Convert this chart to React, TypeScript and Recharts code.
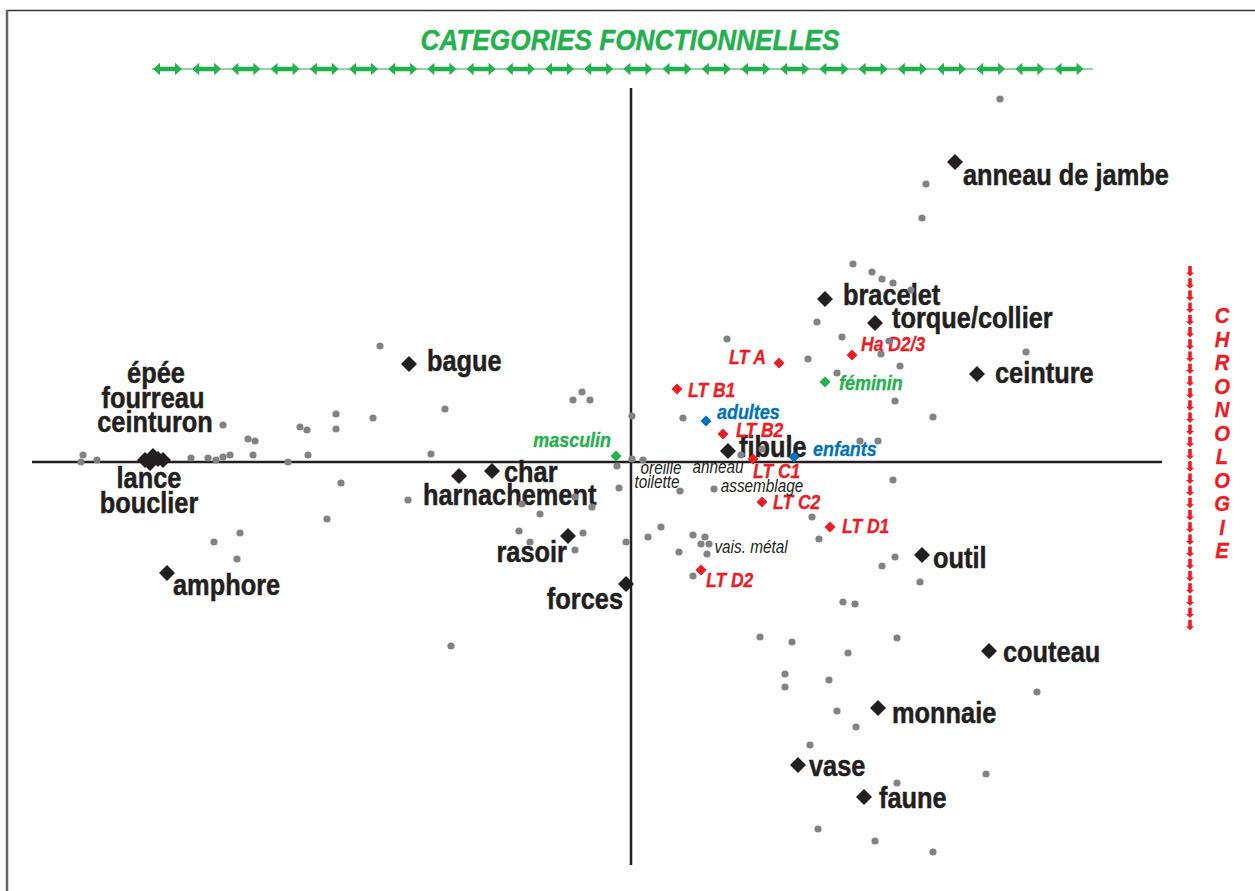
import React from 'react';
import { ScatterChart, Scatter, XAxis, YAxis, ReferenceLine } from 'recharts';

type Pt = { x: number; y: number; name?: string };

// supplementary items (grey dots)
const greyPoints: Pt[] = [
  { x: -2.51, y: 1.16 }, { x: -4.08, y: 0.37 }, { x: -3.31, y: 0.35 }, { x: -3.24, y: 0.32 },
  { x: -2.95, y: 0.48 }, { x: -2.95, y: 0.33 }, { x: -2.58, y: 0.44 }, { x: -3.83, y: 0.23 },
  { x: -3.76, y: 0.21 }, { x: -5.48, y: 0.07 }, { x: -5.5, y: 0.0 }, { x: -5.34, y: 0.02 },
  { x: -4.4, y: 0.04 }, { x: -4.23, y: 0.04 }, { x: -4.15, y: 0.02 }, { x: -4.08, y: 0.05 },
  { x: -4.01, y: 0.07 }, { x: -3.78, y: 0.07 }, { x: -3.43, y: 0.0 }, { x: -3.23, y: 0.07 },
  { x: -2.9, y: -0.21 }, { x: -2.23, y: -0.38 }, { x: -3.04, y: -0.57 }, { x: -3.91, y: -0.71 },
  { x: -4.17, y: -0.8 }, { x: -3.94, y: -0.97 }, { x: -1.86, y: 0.53 }, { x: -0.58, y: 0.62 },
  { x: -0.49, y: 0.7 }, { x: -0.41, y: 0.62 }, { x: 0.01, y: 0.46 }, { x: -2.0, y: 0.08 },
  { x: 0.01, y: 0.03 }, { x: 0.12, y: 0.02 }, { x: -0.14, y: -0.04 }, { x: -0.12, y: -0.26 },
  { x: -1.09, y: -0.42 }, { x: -0.91, y: -0.52 }, { x: -0.56, y: -0.35 }, { x: -0.39, y: -0.45 },
  { x: -1.12, y: -0.69 }, { x: -1.01, y: -0.8 }, { x: -0.48, y: -0.71 }, { x: -0.56, y: -0.88 },
  { x: -0.05, y: -0.8 }, { x: -1.8, y: -1.84 }, { x: 0.49, y: -0.29 }, { x: 0.83, y: -0.27 },
  { x: 0.17, y: -0.75 }, { x: 0.3, y: -0.65 }, { x: 0.48, y: -0.9 }, { x: 0.62, y: -0.73 },
  { x: 0.7, y: -0.82 }, { x: 0.74, y: -0.75 }, { x: 0.78, y: -0.82 }, { x: 0.76, y: -0.92 },
  { x: 0.62, y: -1.14 }, { x: 0.52, y: 0.44 }, { x: 0.96, y: 1.23 }, { x: 1.77, y: 1.03 },
  { x: 1.86, y: 1.4 }, { x: 2.06, y: 0.89 }, { x: 1.1, y: 0.07 }, { x: 1.31, y: 0.13 },
  { x: 2.29, y: 0.21 }, { x: 2.47, y: 0.21 }, { x: 2.62, y: -0.18 }, { x: 1.81, y: -0.55 },
  { x: 1.88, y: -0.77 }, { x: 2.51, y: -1.04 }, { x: 2.64, y: -0.95 }, { x: 2.89, y: -1.2 },
  { x: 2.11, y: 1.25 }, { x: 2.58, y: 1.21 }, { x: 2.5, y: 1.08 }, { x: 2.69, y: 0.96 },
  { x: 3.95, y: 1.1 }, { x: 2.64, y: 0.61 }, { x: 3.02, y: 0.45 }, { x: 3.69, y: 3.63 },
  { x: 2.95, y: 2.78 }, { x: 2.91, y: 2.44 }, { x: 2.22, y: 1.98 }, { x: 2.41, y: 1.9 },
  { x: 2.51, y: 1.83 }, { x: 2.62, y: 1.79 }, { x: 2.8, y: 1.72 }, { x: 2.12, y: -1.4 },
  { x: 2.24, y: -1.42 }, { x: 2.66, y: -1.76 }, { x: 2.17, y: -1.91 }, { x: 1.29, y: -1.75 },
  { x: 1.61, y: -1.8 }, { x: 1.54, y: -2.12 }, { x: 1.54, y: -2.25 }, { x: 1.98, y: -2.18 },
  { x: 2.06, y: -2.49 }, { x: 2.25, y: -2.65 }, { x: 1.79, y: -2.83 }, { x: 4.06, y: -2.3 },
  { x: 3.55, y: -3.12 }, { x: 2.66, y: -3.21 }, { x: 1.87, y: -3.67 }, { x: 2.44, y: -3.79 },
  { x: 3.02, y: -3.9 },
];

const functionCategories: Pt[] = [
  { name: 'anneau de jambe', x: 3.24, y: 3.0 },
  { name: 'bracelet', x: 1.94, y: 1.63 },
  { name: 'torque/collier', x: 2.44, y: 1.39 },
  { name: 'ceinture', x: 3.46, y: 0.88 },
  { name: 'bague', x: -2.22, y: 0.98 },
  { name: 'épée', x: -4.78, y: 0.06 },
  { name: 'fourreau', x: -4.73, y: 0.03 },
  { name: 'ceinturon', x: -4.68, y: 0.02 },
  { name: 'lance', x: -4.86, y: 0.02 },
  { name: 'bouclier', x: -4.81, y: -0.01 },
  { name: 'amphore', x: -4.64, y: -1.11 },
  { name: 'char', x: -1.39, y: -0.09 },
  { name: 'harnachement', x: -1.72, y: -0.14 },
  { name: 'rasoir', x: -0.63, y: -0.74 },
  { name: 'forces', x: -0.05, y: -1.22 },
  { name: 'fibule', x: 0.97, y: 0.11 },
  { name: 'outil', x: 2.91, y: -0.93 },
  { name: 'couteau', x: 3.58, y: -1.89 },
  { name: 'monnaie', x: 2.47, y: -2.46 },
  { name: 'vase', x: 1.67, y: -3.03 },
  { name: 'faune', x: 2.33, y: -3.35 },
];

const chronoPhases: Pt[] = [
  { name: 'Ha D2/3', x: 2.21, y: 1.07 },
  { name: 'LT A', x: 1.48, y: 0.99 },
  { name: 'LT B1', x: 0.46, y: 0.73 },
  { name: 'LT B2', x: 0.92, y: 0.28 },
  { name: 'LT C1', x: 1.22, y: 0.03 },
  { name: 'LT C2', x: 1.31, y: -0.4 },
  { name: 'LT D1', x: 1.99, y: -0.65 },
  { name: 'LT D2', x: 0.7, y: -1.08 },
];

const ageGroups: Pt[] = [
  { name: 'adultes', x: 0.75, y: 0.41 },
  { name: 'enfants', x: 1.63, y: 0.05 },
];

const sexGroups: Pt[] = [
  { name: 'masculin', x: -0.15, y: 0.06 },
  { name: 'féminin', x: 1.94, y: 0.8 },
];

const minorCategories: Pt[] = [
  { name: 'oreille', x: 0.3, y: -0.07 },
  { name: 'toilette', x: 0.26, y: -0.21 },
  { name: 'anneau', x: 0.87, y: -0.06 },
  { name: 'assemblage', x: 1.31, y: -0.25 },
  { name: 'vais. métal', x: 1.2, y: -0.86 },
];

const CHRONO_LETTERS = 'CHRONOLOGIE'.split('');

const W = 1255;
const H = 891;
const FONT = '"Liberation Sans", Arial, Helvetica, sans-serif';
const SQUEEZE = 0.875;
const INK = '#231f20';
const GREY = '#818285';
const RED = '#ed1c24';
const BLUE = '#0072bc';
const GREEN = '#22b14c';

// label offset from marker: dx, dy (baseline), anchor
const LABEL_POS: Record<string, [number, number, 'start' | 'middle' | 'end']> = {
  'anneau de jambe': [8, 23, 'start'],
  bracelet: [18, 6, 'start'],
  'torque/collier': [17, 5, 'start'],
  ceinture: [18, 9, 'start'],
  bague: [18, 7, 'start'],
  'épée': [3, -73, 'middle'],
  fourreau: [-5, -51, 'middle'],
  ceinturon: [-8, -28, 'middle'],
  lance: [4, 28, 'middle'],
  bouclier: [-1, 50, 'middle'],
  amphore: [6, 22, 'start'],
  char: [12, 11, 'start'],
  harnachement: [-36, 29, 'start'],
  rasoir: [-1, 26, 'end'],
  forces: [-3, 25, 'end'],
  fibule: [11, 6, 'start'],
  outil: [11, 13, 'start'],
  couteau: [14, 11, 'start'],
  monnaie: [14, 15, 'start'],
  vase: [11, 11, 'start'],
  faune: [15, 11, 'start'],
  'LT A': [-13, 1, 'end'],
  'Ha D2/3': [9, -4, 'start'],
  'LT B1': [11, 8, 'start'],
  'LT B2': [13, 3, 'start'],
  'LT C1': [0, 19, 'start'],
  'LT C2': [11, 7, 'start'],
  'LT D1': [12, 6, 'start'],
  'LT D2': [5, 17, 'start'],
  adultes: [11, -2, 'start'],
  enfants: [19, -1, 'start'],
  masculin: [-5, -9, 'end'],
  'féminin': [14, 8, 'start'],
};

const diamondShape =
  (half: number, color: string, fontSize: number, italic: boolean, heavy: number) => (props: any) => {
    const { cx, cy, payload } = props;
    const pos = LABEL_POS[payload.name] ?? [half + 4, 5, 'start'];
    return (
      <g>
        <polygon
          points={`${cx},${cy - half} ${cx + half},${cy} ${cx},${cy + half} ${cx - half},${cy}`}
          fill={color}
        />
        <text
          transform={`translate(${cx + pos[0]},${cy + pos[1]}) scale(${SQUEEZE},1)`}
          textAnchor={pos[2]}
          fontFamily={FONT}
          fontWeight="bold"
          fontStyle={italic ? 'italic' : 'normal'}
          fontSize={fontSize}
          fill={color}
          stroke={color}
          strokeWidth={heavy}
        >
          {payload.name}
        </text>
      </g>
    );
  };

const greyDot = (props: any) => <circle cx={props.cx} cy={props.cy} r={3.6} fill={GREY} />;

const minorLabel = (props: any) => (
  <text
    transform={`translate(${props.cx},${props.cy + 5}) scale(${SQUEEZE},1)`}
    textAnchor="middle"
    fontFamily={FONT}
    fontStyle="italic"
    fontSize={17.5}
    fill={INK}
  >
    {props.payload.name}
  </text>
);

function Decorations() {
  const arrows = Array.from({ length: 24 }, (_, i) => 153 + i * 39.2);
  const chronoTicks = Array.from({ length: 30 }, (_, i) => 266 + i * 12.2);
  return (
    <svg width={W} height={H} style={{ position: 'absolute', left: 0, top: 0, pointerEvents: 'none' }}>
      <line x1={7} y1={10.5} x2={W} y2={10.5} stroke="#333" strokeWidth={1.5} />
      <line x1={7} y1={10} x2={7} y2={H} stroke="#666" strokeWidth={2.5} />
      <text
        transform="translate(630,50) scale(0.905,1)"
        textAnchor="middle"
        fontFamily={FONT}
        fontWeight="bold"
        fontStyle="italic"
        fontSize={29}
        fill={GREEN}
        stroke={GREEN}
        strokeWidth={0.4}
      >
        CATEGORIES FONCTIONNELLES
      </text>
      <line x1={152} y1={69} x2={1093} y2={69} stroke="#8fd6a5" strokeWidth={2} />
      {arrows.map((x0) => (
        <polygon
          key={x0}
          fill={GREEN}
          points={`${x0},69 ${x0 + 7},62.7 ${x0 + 7},66.8 ${x0 + 22},66.8 ${x0 + 22},62.7 ${x0 + 29},69 ${x0 + 22},75.3 ${x0 + 22},71.2 ${x0 + 7},71.2 ${x0 + 7},75.3`}
        />
      ))}
      {chronoTicks.map((y0) => (
        <g key={y0}>
          <line x1={1190} y1={y0} x2={1190} y2={y0 + 7.5} stroke={RED} strokeWidth={3.6} />
          <polygon fill={RED} points={`${1186},${y0 + 6.5} ${1194},${y0 + 6.5} ${1190},${y0 + 10.5}`} />
        </g>
      ))}
      {CHRONO_LETTERS.map((ch, i) => (
        <text
          key={i}
          transform={`translate(1222,${323 + i * 23.5}) scale(0.9,1)`}
          textAnchor="middle"
          fontFamily={FONT}
          fontWeight="bold"
          fontStyle="italic"
          fontSize={22.5}
          fill={RED}
          stroke={RED}
          strokeWidth={0.3}
        >
          {ch}
        </text>
      ))}
    </svg>
  );
}

export default function App() {
  return (
    <div style={{ position: 'absolute', left: 0, top: 0, width: W, height: H, background: '#fff' }}>
      <ScatterChart width={W} height={H} margin={{ top: 0, right: 0, bottom: 0, left: 0 }}>
        <XAxis type="number" dataKey="x" domain={[-6.31, 6.24]} allowDataOverflow hide />
        <YAxis type="number" dataKey="y" domain={[-4.29, 4.62]} allowDataOverflow hide />
        <ReferenceLine
          segment={[{ x: -5.99, y: 0 }, { x: 5.31, y: 0 }]}
          stroke={INK}
          strokeWidth={2.5}
        />
        <ReferenceLine
          segment={[{ x: 0, y: 3.74 }, { x: 0, y: -4.03 }]}
          stroke={INK}
          strokeWidth={2.5}
        />
        <Scatter data={functionCategories} shape={diamondShape(8, INK, 29, false, 0.5)} isAnimationActive={false} />
        <Scatter data={chronoPhases} shape={diamondShape(5.5, RED, 20, true, 0.3)} isAnimationActive={false} />
        <Scatter data={ageGroups} shape={diamondShape(5.5, BLUE, 20.5, true, 0.3)} isAnimationActive={false} />
        <Scatter data={sexGroups} shape={diamondShape(5.5, GREEN, 20.5, true, 0.3)} isAnimationActive={false} />
        <Scatter data={minorCategories} shape={minorLabel} isAnimationActive={false} />
        <Scatter data={greyPoints} shape={greyDot} isAnimationActive={false} />
      </ScatterChart>
      <Decorations />
    </div>
  );
}
